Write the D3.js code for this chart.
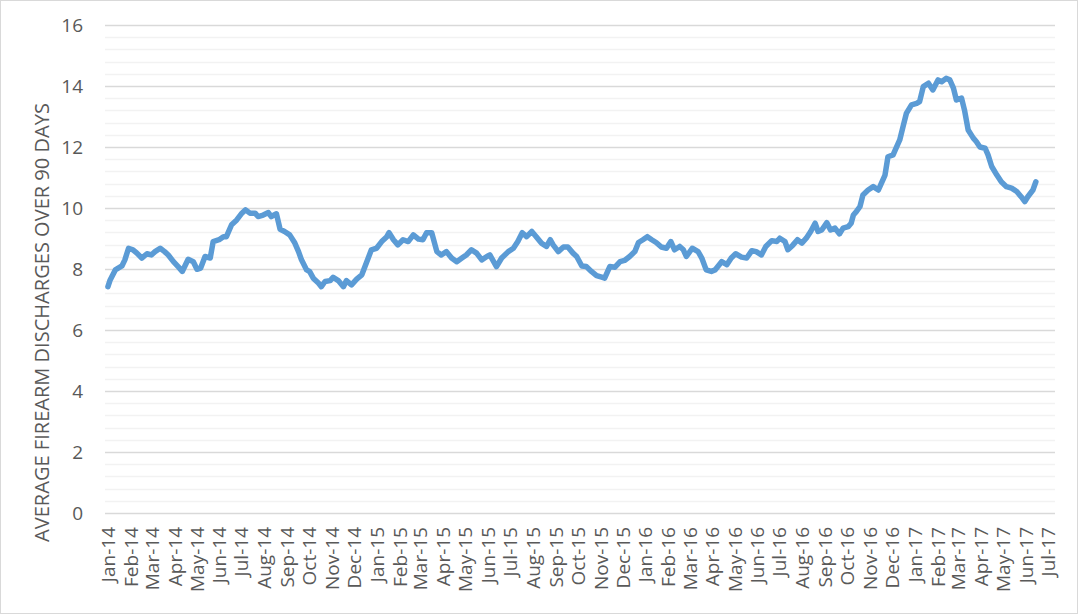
<!DOCTYPE html>
<html>
<head>
<meta charset="utf-8">
<script src="https://cdn.jsdelivr.net/npm/d3@7"></script>
<style>
  html, body { margin: 0; padding: 0; background: #fff; }
  svg { display: block; }
  text { font-family: "Open Sans", "Noto Sans", sans-serif; fill: #595959; }
</style>
</head>
<body>
<svg id="chart" width="1078" height="614"></svg>
<script>
// Day offsets from 1 Jan 2014 and the 90-day average value read at each
const dayOffsets = [0,3,10,19,23,28,34,39,46,53,59,64,71,77,82,89,96,101,109,116,121,126,132,139,143,151,157,161,168,175,182,187,193,200,204,211,218,222,229,234,240,247,254,
259,263,270,274,279,286,290,295,302,306,313,320,324,331,338,345,351,358,365,372,379,382,388,394,401,408,415,422,428,433,440,447,453,460,467,474,481,487,494,501,508,515,
519,528,535,544,551,557,563,569,576,582,589,596,601,605,612,619,625,632,637,644,650,657,664,671,675,682,689,696,702,709,716,721,727,733,739,745,752,759,765,770,777,
782,786,794,802,807,813,820,825,834,841,847,853,861,868,875,881,888,894,902,909,913,920,924,931,937,943,949,955,961,965,970,977,982,988,994,999,1006,1010,1013,1017,
1022,1026,1033,1040,1047,1051,1056,1060,1067,1071,1076,1081,1085,1092,1099,1103,1108,1115,1121,1128,1133,1139,1144,1149,1153,1160,1164,1169,1176,1180,1185,1192,1196,1201,1208,1214,1221,1228,1235,1241,1246,1250,1257,1261];
const dischargeAvg = [7.42,7.64,7.97,8.10,8.30,8.68,8.63,8.53,8.36,8.50,8.46,8.57,8.68,8.57,8.46,8.24,8.06,7.92,8.32,8.24,7.99,8.03,8.41,8.36,8.90,8.96,9.06,9.06,9.45,9.61,9.83,9.94,9.83,9.83,9.72,9.77,9.85,9.72,9.81,9.30,9.23,9.12,8.85,
8.57,8.30,7.97,7.92,7.70,7.54,7.42,7.59,7.62,7.73,7.62,7.42,7.62,7.48,7.67,7.81,8.19,8.63,8.68,8.90,9.06,9.19,8.96,8.79,8.96,8.90,9.12,8.98,8.96,9.19,9.19,8.57,8.46,8.57,8.36,8.24,8.36,8.46,8.63,8.52,8.30,8.41,
8.46,8.08,8.36,8.57,8.68,8.90,9.19,9.06,9.23,9.06,8.85,8.74,8.96,8.79,8.57,8.72,8.72,8.52,8.41,8.10,8.08,7.92,7.78,7.73,7.70,8.08,8.06,8.24,8.28,8.41,8.57,8.87,8.96,9.06,8.96,8.87,8.72,8.68,8.90,8.63,8.74,
8.63,8.41,8.68,8.57,8.36,7.97,7.92,7.97,8.24,8.14,8.36,8.50,8.39,8.36,8.60,8.57,8.46,8.74,8.93,8.90,9.01,8.90,8.63,8.79,8.96,8.85,9.01,9.23,9.50,9.23,9.28,9.52,9.28,9.34,9.15,9.34,9.39,9.50,9.77,9.88,
10.05,10.43,10.59,10.70,10.59,10.81,11.08,11.68,11.74,11.96,12.23,12.72,13.10,13.38,13.43,13.49,13.98,14.09,13.87,14.20,14.14,14.25,14.20,13.93,13.54,13.60,13.21,12.56,12.29,12.18,12.00,11.96,11.74,11.36,11.08,10.86,10.70,10.65,10.54,10.37,10.21,10.37,10.59,10.86];
const yTicks = [0, 2, 4, 6, 8, 10, 12, 14, 16];
const yTitle = "AVERAGE FIREARM DISCHARGES OVER 90 DAYS";

const svg = d3.select("#chart");
const W = 1078, H = 614;
const plot = { left: 105, right: 1055, top: 25, bottom: 513 };

// chart border
svg.append("rect").attr("x", 0.5).attr("y", 0.5).attr("width", W - 1).attr("height", H - 1)
  .attr("fill", "#fff").attr("stroke", "#d9d9d9");

const start = new Date(2014, 0, 1);
const data = dayOffsets.map((d, i) => ({ date: d3.timeDay.offset(start, d), value: dischargeAvg[i] }));

const x = d3.scaleTime()
  .domain([new Date(2013, 11, 28), new Date(2017, 6, 11)])
  .range([plot.left, plot.right]);
const y = d3.scaleLinear().domain([0, 16]).range([plot.bottom, plot.top]);

// minor gridlines
const minor = d3.range(0, 16.001, 0.4).filter(v => Math.abs(v / 2 - Math.round(v / 2)) > 1e-6);
svg.append("g").selectAll("line").data(minor).join("line")
  .attr("x1", plot.left).attr("x2", plot.right)
  .attr("y1", d => Math.round(y(d)) + 0.5).attr("y2", d => Math.round(y(d)) + 0.5)
  .attr("stroke", "#f2f2f2").attr("stroke-width", 1.5);

// major gridlines + y axis labels
const yAxis = d3.axisLeft(y).tickValues(yTicks).tickSize(-(plot.right - plot.left)).tickPadding(22);
const gy = svg.append("g").attr("transform", `translate(${plot.left},0)`).call(yAxis);
gy.select(".domain").remove();
gy.selectAll(".tick line").attr("stroke", "#d9d9d9").attr("stroke-width", 1.5);
gy.selectAll(".tick text").attr("font-size", 19).attr("fill", "#595959")
  .style("font-family", '"Open Sans", sans-serif');

// x axis labels (monthly)
const months = d3.timeMonth.range(new Date(2014, 0, 1), new Date(2017, 6, 2));
const xAxis = d3.axisBottom(x).tickValues(months).tickFormat(d3.timeFormat("%b-%y")).tickSize(0).tickPadding(0);
const gx = svg.append("g").attr("transform", `translate(0,${plot.bottom})`).call(xAxis);
gx.select(".domain").remove();
gx.selectAll(".tick text")
  .attr("transform", "rotate(-90)")
  .attr("text-anchor", "end")
  .attr("x", -14).attr("y", 0).attr("dy", "0.36em")
  .attr("font-size", 19).attr("fill", "#595959")
  .style("font-family", '"Open Sans", sans-serif');

// y axis title: spans roughly y 103..542 in the reference
const titleTop = 103, titleBottom = 542;
const title = svg.append("text")
  .attr("text-anchor", "middle")
  .attr("font-size", 19)
  .text(yTitle);
const len = title.node().getComputedTextLength();
const fs = 19 * (titleBottom - titleTop) / len;
title.attr("font-size", fs)
  .attr("transform", `translate(49,${(titleTop + titleBottom) / 2}) rotate(-90)`);

// line
const line = d3.line().x(d => x(d.date)).y(d => y(d.value)).curve(d3.curveLinear);
svg.append("path").datum(data)
  .attr("d", line)
  .attr("fill", "none")
  .attr("stroke", "#5b9bd5")
  .attr("stroke-width", 5.5)
  .attr("stroke-linejoin", "round")
  .attr("stroke-linecap", "round");
</script>
</body>
</html>
